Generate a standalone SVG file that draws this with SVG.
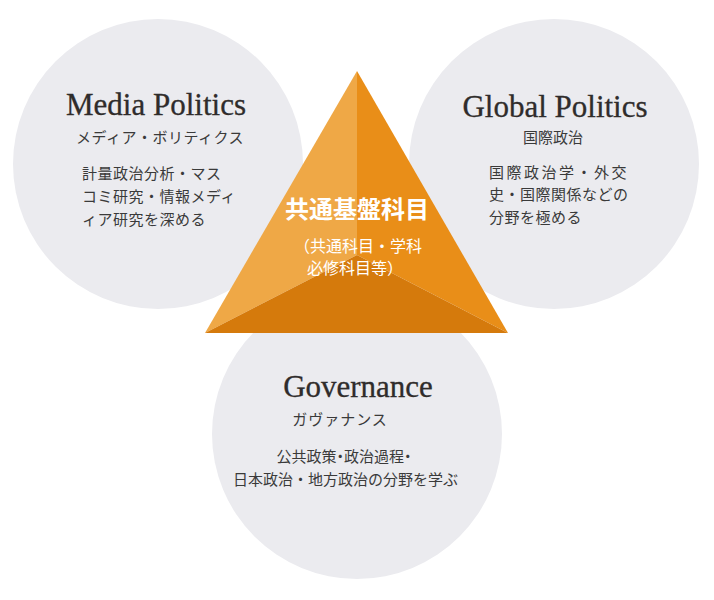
<svg xmlns="http://www.w3.org/2000/svg" width="714" height="600" viewBox="0 0 714 600">
<style>
.circ{fill:#ebebef}
.en{font-family:"Liberation Serif","Times New Roman",serif;font-size:31px;fill:#2f2c2b;stroke:#2f2c2b;stroke-width:0.3;text-anchor:middle}
.jp{font-family:"Noto Sans CJK JP","Noto Sans",sans-serif;font-size:15px;fill:#3a3a3a}
.mid{text-anchor:middle}
.palt{font-feature-settings:"palt"}
.tw{font-family:"Noto Sans CJK JP","Noto Sans",sans-serif;fill:#ffffff;text-anchor:middle}
</style>
<rect width="714" height="600" fill="#ffffff"/>
<g id="media-politics">
<circle class="circ" cx="158" cy="164" r="145"/>
<text class="en" x="156" y="115">Media Politics</text>
<text class="jp mid" x="160" y="143" letter-spacing="0.5">メディア・ボリティクス</text>
<text class="jp" x="82" y="179" letter-spacing="0.5">計量政治分析・マス</text>
<text class="jp" x="82" y="202" letter-spacing="0.5">コミ研究・情報メディ</text>
<text class="jp" x="82" y="225" letter-spacing="0.5">ィア研究を深める</text>
</g>
<g id="global-politics">
<circle class="circ" cx="554" cy="164" r="145"/>
<text class="en" x="555" y="117">Global Politics</text>
<text class="jp mid" x="553" y="143">国際政治</text>
<text class="jp" x="489" y="178" letter-spacing="2.5">国際政治学・外交</text>
<text class="jp" x="489" y="200" letter-spacing="0.5">史・国際関係などの</text>
<text class="jp" x="489" y="223" letter-spacing="0.5">分野を極める</text>
</g>
<g id="governance">
<circle class="circ" cx="357" cy="434" r="145"/>
<text class="en" x="358" y="397">Governance</text>
<text class="jp mid" x="340" y="425" letter-spacing="1">ガヴァナンス</text>
<text class="jp mid palt" x="344" y="462" font-size="14.5">公共政策・政治過程・</text>
<text class="jp mid" x="345.5" y="485" font-size="14.3">日本政治・地方政治の分野を学ぶ</text>
</g>
<g id="common-subjects">
<polygon points="357,71 205,333 357,255" fill="#efa846"/>
<polygon points="357,71 508,333 357,255" fill="#e98e18"/>
<polygon points="205,333 508,333 357,255" fill="#d57a0c"/>
<text class="tw" x="357" y="218" font-size="24" font-weight="bold">共通基盤科目</text>
<text class="tw" x="358" y="252" font-size="16">（共通科目・学科</text>
<text class="tw" x="355" y="274" font-size="16">必修科目等）</text>
</g>
<g id="connectors"></g>
</svg>
